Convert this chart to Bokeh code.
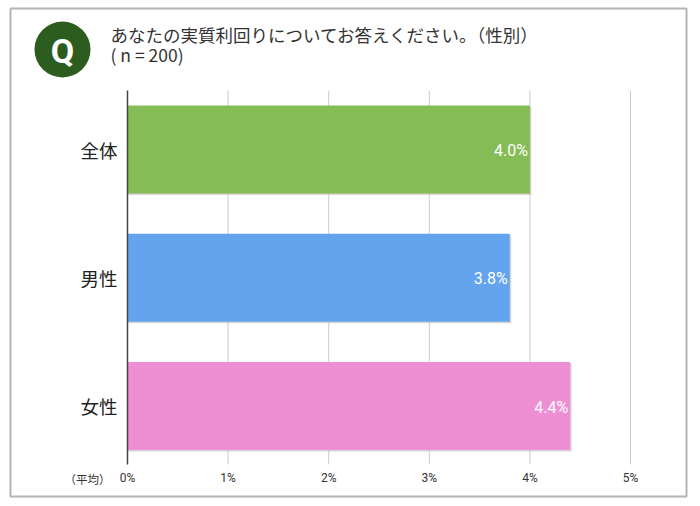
from bokeh.plotting import figure
from bokeh.models import Range1d, ColumnDataSource
from bokeh.transform import dodge
from bokeh.core.properties import value
from bokeh.embed import file_html
from bokeh.resources import INLINE

# ---- data ----
categories = ["全体", "男性", "女性"]
values = [4.0, 3.8, 4.4]
value_labels = ["4.0%", "3.8%", "4.4%"]
bar_colors = ["#86BC55", "#64A4EF", "#EE8FD3"]
tick_values = [0, 1, 2, 3, 4, 5]
tick_labels = ["0%", "1%", "2%", "3%", "4%", "5%"]
title_line1 = "あなたの実質利回りについてお答えください。（性別）"
title_line2 = "(  n = 200)"
axis_note = "（平均）"
q_mark = "Q"

JP = "Noto Sans CJK JP"
W, H = 700, 506

# category index positions (top to bottom)
ypos = list(range(len(categories)))
band_top, band_bottom = -0.46, len(categories) - 1 + 0.456

p = figure(width=W, height=H, output_backend="svg", toolbar_location=None,
           x_axis_type=None, y_axis_type=None,
           x_range=Range1d(-1.2624, 5.6958), y_range=Range1d(2.7836, -1.1618),
           min_border=0)
p.title.visible = False
p.outline_line_color = None
p.background_fill_color = "white"
p.border_fill_color = "white"
p.xgrid.visible = False
p.ygrid.visible = False
# pixel-like ranges for the decorative frame / header
p.extra_x_ranges = {"px": Range1d(0, W)}
p.extra_y_ranges = {"px": Range1d(H, 0)}

# outer frame
p.quad(left=10, right=686, top=8, bottom=496, x_range_name="px", y_range_name="px",
       fill_color=None, line_color="#b4b4b4", line_width=2)

# header
p.scatter(x=[62], y=[49], size=56, x_range_name="px", y_range_name="px",
          fill_color="#2D5C1F", line_color=None)
p.text(x=[62], y=[50], text=[q_mark], x_range_name="px", y_range_name="px",
       text_align="center", text_baseline="middle", text_color="white",
       text_font=value("Roboto"), text_font_style="bold", text_font_size="34px")
p.text(x=[110, 110], y=[34, 54], text=[title_line1, title_line2],
       x_range_name="px", y_range_name="px", text_baseline="middle",
       text_color="#333333", text_font=value(JP), text_font_size="17.5px")

# grid lines
grid_x = tick_values[1:]
p.segment(x0=grid_x, x1=grid_x, y0=[band_top] * len(grid_x), y1=[band_bottom] * len(grid_x),
          line_color="#cccccc", line_width=1)

src = ColumnDataSource(dict(cat=categories, y=ypos, val=values, lab=value_labels, col=bar_colors))
# soft shadow
p.hbar(y=dodge("y", 0.012), left=0, right=dodge("val", 0.015), height=0.686,
       source=src, fill_color="#bbbbbb", fill_alpha=0.6, line_color=None)
p.hbar(y="y", left=0, right="val", height=0.686, fill_color="col", line_color=None,
       source=src)
p.text(x="val", y="y", text="lab", source=src, text_align="right",
       text_baseline="middle", x_offset=-2, y_offset=1, text_color="white",
       text_font=value("Roboto"), text_font_size="16px")

# value axis line (0%)
p.segment(x0=[0], x1=[0], y0=[band_top], y1=[band_bottom], line_color="#444444",
          line_width=1.5)

# category labels
p.text(x=value(0), y="y", text="cat", source=src, x_offset=-10,
       text_align="right", text_baseline="middle", text_color="#222222",
       text_font=value(JP), text_font_size="18.5px")

# tick labels
p.text(x=tick_values, y=[band_bottom] * len(tick_values), text=tick_labels,
       y_offset=14, text_align="center", text_baseline="middle",
       text_color="#333333", text_font=value("Roboto"), text_font_size="12px")
p.text(x=[110], y=[478], text=[axis_note], x_range_name="px", y_range_name="px",
       text_align="right", text_baseline="middle", text_color="#333333",
       text_font=value(JP), text_font_size="11.5px")

open("out.html", "w").write(file_html(p, INLINE))
